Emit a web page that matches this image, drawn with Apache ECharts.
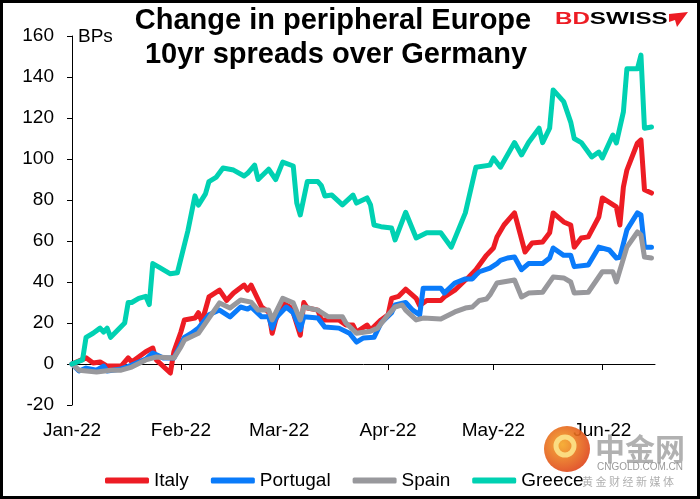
<!DOCTYPE html>
<html>
<head>
<meta charset="utf-8">
<script src="https://cdn.jsdelivr.net/npm/echarts@6.0.0/dist/echarts.min.js"></script>
<style>
  html, body { margin: 0; padding: 0; background: #fff; }
  #chart { width: 700px; height: 499px; }
</style>
</head>
<body>
<div id="chart"></div>
<script>
// 数据：2022 年每个点 [月-日, 利差变化 bp]
const italy = [
  ['01-03', 0], ['01-07', 3], ['01-09', 0.5], ['01-11', 1], ['01-13', -1], ['01-17', -1], ['01-19', 3], ['01-20', 1],
  ['01-24', 6], ['01-26', 7.8], ['01-27', 2], ['01-31', -4.4], ['02-01', 5.9], ['02-03', 15.6], ['02-04', 21.5],
  ['02-07', 22.4], ['02-08', 25], ['02-09', 20.5], ['02-11', 32.7], ['02-14', 36], ['02-16', 31], ['02-18', 34.6],
  ['02-21', 38.5], ['02-22', 36], ['02-23', 38.5], ['02-26', 27.8], ['02-28', 25.4], ['03-01', 15], ['03-02', 21.5],
  ['03-04', 29.8], ['03-06', 27.8], ['03-07', 25], ['03-09', 14], ['03-10', 30], ['03-11', 27.3], ['03-14', 26.3],
  ['03-15', 21.5], ['03-20', 21.5], ['03-22', 19], ['03-24', 19], ['03-25', 15.6], ['03-28', 19], ['03-29', 16.6],
  ['04-01', 21.5], ['04-03', 24], ['04-04', 32], ['04-06', 33], ['04-08', 36.5], ['04-11', 32], ['04-12', 28.5],
  ['04-14', 31], ['04-18', 31], ['04-19', 32.7], ['04-22', 36], ['04-25', 41], ['04-26', 42.4], ['04-28', 46],
  ['05-01', 53], ['05-03', 56.6], ['05-04', 62], ['05-06', 67.8], ['05-09', 73.7], ['05-12', 54.6], ['05-14', 59],
  ['05-17', 59.5], ['05-19', 64], ['05-20', 73.7], ['05-23', 69.3], ['05-25', 67.8], ['05-26', 57], ['05-28', 61.5],
  ['05-30', 62], ['06-02', 71.7], ['06-03', 81], ['06-07', 76.6], ['06-08', 67.8], ['06-09', 86.3], ['06-10', 94.6],
  ['06-13', 107.8], ['06-14', 109.3], ['06-15', 85], ['06-17', 83.4]
];
const portugal = [
  ['01-03', 0], ['01-05', -3.4], ['01-07', -2], ['01-10', -3], ['01-12', -1], ['01-13', -3.4], ['01-17', -2.4],
  ['01-20', -0.5], ['01-24', 2.4], ['01-26', 5.4], ['01-29', 2.9], ['02-01', 2.9], ['02-04', 13], ['02-06', 15],
  ['02-08', 17.5], ['02-11', 24], ['02-14', 26.3], ['02-17', 23], ['02-20', 27.8], ['02-22', 26.8], ['02-23', 27.8],
  ['02-26', 23], ['02-28', 23], ['03-01', 17.5], ['03-02', 22.4], ['03-05', 27.8], ['03-07', 25], ['03-09', 16.6],
  ['03-10', 23], ['03-14', 22.4], ['03-16', 18], ['03-20', 17.5], ['03-23', 15], ['03-25', 10.7], ['03-27', 12.7],
  ['03-30', 13], ['04-01', 20], ['04-04', 25], ['04-05', 28.8], ['04-08', 30], ['04-10', 26.3], ['04-12', 24],
  ['04-13', 37], ['04-18', 37], ['04-19', 34.6], ['04-22', 39.5], ['04-25', 41.5], ['04-27', 41.5], ['04-28', 43.4],
  ['04-29', 45], ['05-02', 46.8], ['05-04', 49], ['05-05', 50.5], ['05-07', 51.7], ['05-09', 52.2], ['05-11', 46],
  ['05-13', 49], ['05-17', 49], ['05-19', 51.7], ['05-20', 56.6], ['05-23', 53], ['05-25', 53], ['05-26', 47.5],
  ['05-30', 48.3], ['06-02', 57], ['06-05', 55.6], ['06-07', 51.7], ['06-08', 52], ['06-10', 65.4], ['06-13', 73.7],
  ['06-14', 72.7], ['06-15', 57], ['06-17', 57]
];
const spain = [
  ['01-03', 0], ['01-05', -3], ['01-10', -3.9], ['01-14', -3], ['01-17', -3], ['01-20', -1.5], ['01-24', 2],
  ['01-27', 3.4], ['02-01', 2.9], ['02-03', 8.3], ['02-04', 11.7], ['02-08', 15], ['02-11', 22.4], ['02-14', 29.8],
  ['02-17', 27.3], ['02-20', 31.2], ['02-23', 30.2], ['02-25', 26.3], ['02-28', 26.3], ['03-01', 21.5], ['03-04', 32],
  ['03-07', 29.8], ['03-09', 21.5], ['03-10', 27.8], ['03-14', 26.3], ['03-17', 23], ['03-21', 23], ['03-22', 20],
  ['03-25', 15], ['03-29', 16], ['03-31', 17.5], ['04-03', 24], ['04-05', 27.8], ['04-07', 28.8], ['04-08', 26.3],
  ['04-11', 21.5], ['04-13', 22.4], ['04-18', 22], ['04-22', 25.4], ['04-25', 27.3], ['04-27', 27.8], ['04-29', 31],
  ['05-01', 31.7], ['05-02', 33.7], ['05-04', 39.5], ['05-09', 41], ['05-11', 32.7], ['05-13', 34.6], ['05-17', 35],
  ['05-20', 42.4], ['05-23', 42], ['05-25', 40], ['05-26', 34.6], ['05-30', 35], ['06-03', 45], ['06-06', 45],
  ['06-07', 40], ['06-10', 57], ['06-13', 64.4], ['06-14', 63], ['06-15', 52.2], ['06-17', 51.7]
];
const greece = [
  ['01-03', 0], ['01-06', 2], ['01-07', 13], ['01-09', 15], ['01-11', 17.5], ['01-12', 15.6], ['01-13', 17.5],
  ['01-14', 13], ['01-18', 20], ['01-19', 30], ['01-20', 30], ['01-22', 32], ['01-24', 33], ['01-25', 29],
  ['01-26', 49], ['01-28', 47], ['01-31', 44], ['02-02', 44.5], ['02-05', 65], ['02-07', 82], ['02-08', 77.5],
  ['02-10', 83], ['02-11', 89], ['02-13', 91], ['02-15', 95.6], ['02-18', 94.6], ['02-21', 91.7], ['02-22', 93],
  ['02-24', 97], ['02-25', 90], ['02-28', 95], ['03-02', 90], ['03-04', 98.5], ['03-07', 96.6], ['03-08', 78.5],
  ['03-09', 72.7], ['03-11', 89], ['03-14', 89], ['03-15', 87], ['03-16', 82], ['03-18', 82.4], ['03-21', 77.6],
  ['03-24', 82.4], ['03-25', 78.5], ['03-28', 81], ['03-29', 77.6], ['03-30', 67.8], ['04-01', 67], ['04-04', 66.3],
  ['04-05', 60.5], ['04-08', 74], ['04-11', 61.5], ['04-14', 64], ['04-18', 64], ['04-21', 57], ['04-25', 73.7],
  ['04-28', 96], ['05-02', 97], ['05-03', 100.5], ['05-05', 96], ['05-09', 108], ['05-11', 102], ['05-13', 108],
  ['05-16', 115], ['05-17', 108], ['05-19', 115], ['05-20', 133.7], ['05-23', 128], ['05-25', 118], ['05-26', 110],
  ['05-28', 108], ['05-31', 101], ['06-02', 103.4], ['06-03', 100.5], ['06-06', 111.7], ['06-07', 107.8],
  ['06-09', 123], ['06-10', 144], ['06-13', 144], ['06-14', 150.7], ['06-15', 115], ['06-17', 115.6]
];
const tickDates = ['01-03', '02-03', '03-03', '04-03', '05-03', '06-03'];
const tickLabels = ['Jan-22', 'Feb-22', 'Mar-22', 'Apr-22', 'May-22', 'Jun-22'];
const seriesNames = ['Italy', 'Portugal', 'Spain', 'Greece'];
const seriesColors = ['#ED1C24', '#0A7BFA', '#98989C', '#00D1B2'];

const FONT = '"Liberation Sans", Arial, sans-serif';

// 日期转为天数（从 1 月 3 日起）
const DAY = 86400000;
const START = Date.UTC(2022, 0, 3);
function toDay(md) {
  const [m, d] = md.split('-').map(Number);
  return (Date.UTC(2022, m - 1, d) - START) / DAY;
}
const tickDays = tickDates.map(toDay);

function makeLine(name, rows, color) {
  return {
    name: name,
    type: 'line',
    data: rows.map(r => [toDay(r[0]), r[1]]),
    symbol: 'none',
    lineStyle: { color: color, width: 5, cap: 'round', join: 'round' },
    itemStyle: { color: color },
    emphasis: { disabled: true }
  };
}

const chart = echarts.init(document.getElementById('chart'), null, { renderer: 'canvas' });
chart.setOption({
  animation: false,
  backgroundColor: '#fff',
  grid: { left: 72, right: 45, top: 36, bottom: 94 },
  xAxis: {
    type: 'value',
    min: 0,
    max: toDay('06-18'),
    axisLine: { onZero: true, lineStyle: { color: '#000', width: 1 } },
    axisTick: { show: true, length: 6, customValues: tickDays, lineStyle: { color: '#000' } },
    axisLabel: {
      customValues: tickDays,
      margin: 16,
      fontSize: 19,
      color: '#000',
      fontFamily: FONT,
      formatter: v => tickLabels[tickDays.indexOf(v)] || ''
    },
    splitLine: { show: false }
  },
  yAxis: {
    type: 'value',
    min: -20,
    max: 160,
    interval: 20,
    axisLine: { show: true, lineStyle: { color: '#000', width: 1 } },
    axisTick: { show: true, length: 5, lineStyle: { color: '#000' } },
    axisLabel: { fontSize: 19, color: '#000', fontFamily: FONT, margin: 18 },
    splitLine: { show: false }
  },
  legend: {
    left: 100,
    top: 466,
    itemWidth: 44,
    itemHeight: 6,
    itemGap: 22,
    icon: 'roundRect',
    data: seriesNames,
    textStyle: { fontSize: 19, color: '#000', fontFamily: FONT }
  },
  series: [
    makeLine(seriesNames[0], italy, seriesColors[0]),
    makeLine(seriesNames[1], portugal, seriesColors[1]),
    makeLine(seriesNames[2], spain, seriesColors[2]),
    makeLine(seriesNames[3], greece, seriesColors[3])
  ],
  graphic: [
    { type: 'text', left: 78, top: 27, style: { text: 'BPs', fontSize: 19, fontFamily: FONT, fill: '#000' } },
    { type: 'text', x: 333, y: 21, style: { text: 'Change in peripheral Europe', fontSize: 29, fontWeight: 'bold',
      fontFamily: FONT, fill: '#000', textAlign: 'center', textVerticalAlign: 'middle' } },
    { type: 'text', x: 336, y: 55, style: { text: '10yr spreads over Germany', fontSize: 29, fontWeight: 'bold',
      fontFamily: FONT, fill: '#000', textAlign: 'center', textVerticalAlign: 'middle' } },
    // BDSWISS 标志（字体较宽，横向拉伸）
    { type: 'text', x: 555, y: 19, scaleX: 1.42, style: { text: '{r|BD}{k|SWISS}', textVerticalAlign: 'middle',
      rich: { r: { fontSize: 17, fontWeight: 'bold', fontFamily: FONT, fill: '#ED1C24' },
              k: { fontSize: 17, fontWeight: 'bold', fontFamily: FONT, fill: '#000' } } } },
    { type: 'polygon', shape: { points: [[669, 14], [688, 12], [677, 27], [675, 20], [669, 22]] }, style: { fill: '#ED1C24' } },
    // 水印
    { type: 'circle', z: 100, shape: { cx: 567, cy: 449, r: 23 }, style: {
      fill: new echarts.graphic.RadialGradient(0.4, 0.4, 0.7, [{ offset: 0, color: '#F5A623' }, { offset: 1, color: '#DC3A18' }]),
      opacity: 0.9 } },
    { type: 'circle', z: 101, shape: { cx: 565, cy: 446, r: 9 }, style: { fill: 'none', stroke: '#FCE38A', lineWidth: 5, opacity: 0.9 } },
    { type: 'text', z: 100, x: 640, y: 449, style: { text: '中金网', fontSize: 30, fontWeight: 'bold',
      fontFamily: '"Noto Sans CJK SC"', fill: '#A9A9A9', textAlign: 'center', textVerticalAlign: 'middle', opacity: 0.9 } },
    { type: 'text', z: 100, x: 640, y: 467, style: { text: 'CNGOLD.COM.CN', fontSize: 10, fontFamily: FONT,
      fill: '#9A9A9A', textAlign: 'center', textVerticalAlign: 'middle' } },
    { type: 'text', z: 100, x: 628, y: 482, style: { text: '黄 金 财 经 新 媒 体', fontSize: 11, fontFamily: '"Noto Sans CJK SC"',
      fill: '#B0B0B0', textAlign: 'center', textVerticalAlign: 'middle' } },
    // 外框
    { type: 'rect', z: 200, shape: { x: 1.5, y: 1.5, width: 697, height: 496 }, style: { fill: 'none', stroke: '#000', lineWidth: 3 } }
  ]
});
</script>
</body>
</html>
